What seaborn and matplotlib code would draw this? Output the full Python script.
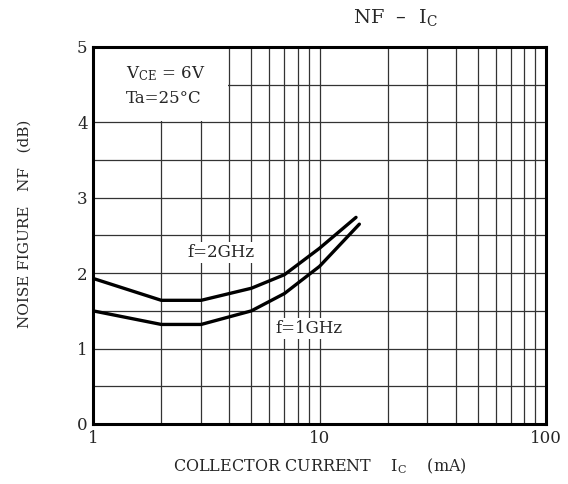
import matplotlib
matplotlib.use("Agg")
import matplotlib.pyplot as plt
import matplotlib.ticker as mticker
from matplotlib.patches import Rectangle
import pandas as pd
import seaborn as sns

# valores
ic_2g = [1, 2, 3, 5, 7, 10, 14.5]
nf_2g = [1.93, 1.64, 1.64, 1.80, 1.98, 2.33, 2.74]
ic_1g = [1, 2, 3, 5, 7, 10, 15]
nf_1g = [1.50, 1.32, 1.32, 1.50, 1.73, 2.09, 2.65]
x_ticks = [1, 10, 100]
x_labels = ["1", "10", "100"]
y_ticks = [0, 1, 2, 3, 4, 5]

df = pd.concat([
    pd.DataFrame({"ic": ic_2g, "nf": nf_2g, "f": "2GHz"}),
    pd.DataFrame({"ic": ic_1g, "nf": nf_1g, "f": "1GHz"}),
])

sns.set_style("white")
plt.rcParams["font.family"] = ["DejaVu Serif"]
plt.rcParams["mathtext.fontset"] = "dejavuserif"

fig = plt.figure(figsize=(5.68, 4.84), dpi=100)
ax = fig.add_axes([0.164, 0.124, 0.797, 0.779])

sns.lineplot(data=df, x="ic", y="nf", units="f", estimator=None,
             color="black", linewidth=2.4, sort=False, ax=ax, zorder=3)

ax.set_xscale("log")
ax.set_xlim(1, 100)
ax.set_ylim(0, 5)

# grade
ax.xaxis.set_major_locator(mticker.FixedLocator(x_ticks))
ax.xaxis.set_major_formatter(mticker.FixedFormatter(x_labels))
ax.xaxis.set_minor_locator(mticker.LogLocator(base=10, subs=range(2, 10)))
ax.xaxis.set_minor_formatter(mticker.NullFormatter())
ax.set_yticks(y_ticks)
ax.yaxis.set_minor_locator(mticker.MultipleLocator(0.5))
ax.grid(True, which="both", color="#333333", linewidth=0.9)
ax.set_axisbelow(True)
ax.tick_params(which="both", length=0, labelsize=12, pad=4)

for s in ax.spines.values():
    s.set_linewidth(2.2)
    s.set_color("black")

# caixa branca das condicoes
ax.add_patch(Rectangle((1, 4.012), 2.95, 0.99, facecolor="white",
                       edgecolor="none", zorder=1))
ax.text(1.40, 4.65, r"V$_{\mathrm{CE}}$ = 6V", fontsize=12, va="center", zorder=2)
ax.text(1.40, 4.31, "Ta=25°C", fontsize=12, va="center", zorder=2)

bbox = dict(facecolor="white", edgecolor="none", pad=1.5)
ax.text(3.67, 2.27, "f=2GHz", fontsize=12, ha="center", va="center",
        bbox=bbox, zorder=2)
ax.text(8.99, 1.27, "f=1GHz", fontsize=12, ha="center", va="center",
        bbox=bbox, zorder=2)

ax.set_title(r"NF  –  I$_{\mathrm{C}}$", fontsize=14, pad=17, x=0.667)
ax.set_xlabel(r"COLLECTOR CURRENT    I$_{\mathrm{C}}$    (mA)", fontsize=11.5, labelpad=7)
ax.set_ylabel("NOISE FIGURE   NF   (dB)", fontsize=11)
ax.yaxis.set_label_coords(-0.135, 0.53)

fig.savefig("out.png", dpi=100)
